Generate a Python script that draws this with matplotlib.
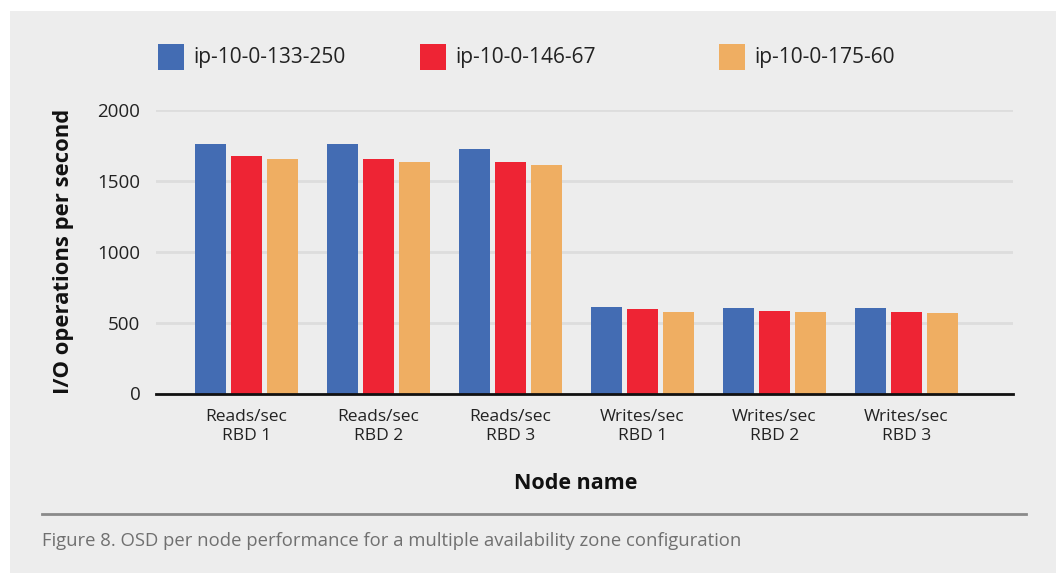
import numpy as np
import matplotlib
matplotlib.use("Agg")
import matplotlib.pyplot as plt
from matplotlib.patches import Rectangle
from matplotlib.lines import Line2D

plt.rcParams['font.family'] = ['Open Sans', 'DejaVu Sans']

categories = ["Reads/sec\nRBD 1", "Reads/sec\nRBD 2", "Reads/sec\nRBD 3",
              "Writes/sec\nRBD 1", "Writes/sec\nRBD 2", "Writes/sec\nRBD 3"]
nodes = ["ip-10-0-133-250", "ip-10-0-146-67", "ip-10-0-175-60"]
node_250 = [1763, 1763, 1728, 609, 602, 602]
node_67 = [1678, 1657, 1636, 595, 581, 574]
node_60 = [1657, 1636, 1615, 574, 574, 567]
colors = ["#436CB3", "#EE2434", "#EFAE62"]

W, H = 1057, 573
fig = plt.figure(figsize=(W / 100, H / 100), dpi=100)
fig.patch.set_facecolor("white")

# grey panel
fig.add_artist(Rectangle((10 / W, 0), (1056 - 10) / W, 1 - 11 / H,
                         transform=fig.transFigure, facecolor="#EDEDED",
                         edgecolor="none", zorder=-10))

ax = fig.add_axes([155.7 / W, 1 - 393.5 / H, (1012.7 - 155.7) / W, (393.5 - 110) / H])
ax.set_facecolor("#EDEDED")

x = np.arange(len(categories))
width = 0.235
step = 0.273
for i, (vals, c) in enumerate(zip([node_250, node_67, node_60], colors)):
    ax.bar(x + (i - 1) * step, vals, width, color=c, zorder=3)

ax.set_xlim(-0.688, 5.805)
ax.set_ylim(0, 2000)
ax.set_yticks([0, 500, 1000, 1500, 2000])
ax.set_xticks(x)
ax.set_xticklabels(categories, fontsize=12.5, color="#222222", linespacing=1.3)
ax.tick_params(axis="y", length=0, pad=11, labelsize=13.5, labelcolor="#222222")
ax.tick_params(axis="x", length=0, pad=11)
ax.grid(axis="y", color="#DDDDDD", linewidth=2, zorder=0)
for s in ["top", "right", "left"]:
    ax.spines[s].set_visible(False)
ax.spines["bottom"].set_color("#111111")
ax.spines["bottom"].set_linewidth(2)
ax.spines["bottom"].set_zorder(4)

ax.set_ylabel("I/O operations per second", fontsize=15.8, fontweight="bold",
              color="#111111")
ax.yaxis.set_label_coords(-0.095, 0.5)
ax.set_xlabel("Node name", fontsize=15.5, fontweight="bold", color="#111111")
ax.xaxis.set_label_coords(0.49, -0.28)

# legend
sq_x = [158, 420, 719]
for sx, name, c in zip(sq_x, nodes, colors):
    fig.add_artist(Rectangle((sx / W, 1 - 70 / H), 25.5 / W, 26 / H,
                             transform=fig.transFigure, facecolor=c, edgecolor="none"))
    fig.text((sx + 35) / W, 1 - 58 / H, name, fontsize=15, color="#222222",
             va="center", ha="left")

# separator and caption
fig.add_artist(Line2D([42 / W, 1026 / W], [1 - 513.5 / H] * 2, transform=fig.transFigure,
                      color="#8A8A8A", linewidth=2))
fig.text(42 / W, 1 - 541 / H,
         "Figure 8. OSD per node performance for a multiple availability zone configuration",
         fontsize=13.3, color="#707070", va="center", ha="left")

fig.savefig("out.png", dpi=100, facecolor=fig.get_facecolor())
